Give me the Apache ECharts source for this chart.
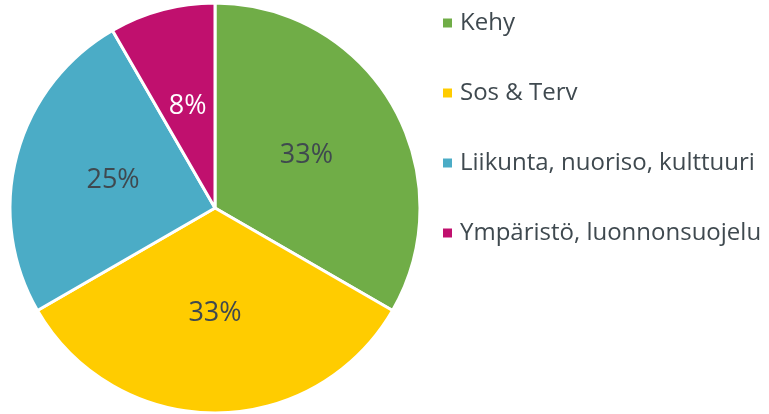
<!DOCTYPE html>
<html><head><meta charset="utf-8">
<script src="https://cdn.jsdelivr.net/npm/echarts@6/dist/echarts.min.js"></script>
<style>html,body{margin:0;padding:0;background:#fff}#c{width:769px;height:414px}</style>
</head><body><div id="c"></div>
<script>
const categories = ['Kehy', 'Sos & Terv', 'Liikunta, nuoriso, kulttuuri', 'Ympäristö, luonnonsuojelu'];
const values = [4, 4, 3, 1];
const colors = ['#70ad47', '#ffcc00', '#4bacc6', '#c0106e'];
const labelColors = ['#3f494f', '#3f494f', '#3f494f', '#ffffff'];

const chart = echarts.init(document.getElementById('c'));
chart.setOption({
  animation: false,
  color: colors,
  legend: {
    orient: 'vertical',
    left: 436,
    top: 3,
    itemWidth: 11,
    itemHeight: 11,
    itemGap: 40,
    icon: 'rect',
    textStyle: { fontFamily: 'Open Sans', fontSize: 24, color: '#3f494f', lineHeight: 30, padding: [0,0,0,2] },
    data: categories
  },
  series: [{
    type: 'pie',
    center: [215, 208],
    radius: [0, 205],
    startAngle: 90,
    clockwise: true,
    avoidLabelOverlap: false,
    itemStyle: { borderColor: '#ffffff', borderWidth: 3 },
    label: {
      position: 'inside',
      fontFamily: 'Open Sans',
      fontSize: 27,
      formatter: p => Math.round(p.percent) + '%'
    },
    labelLine: { show: false },
    data: categories.map((c, i) => ({ name: c, value: values[i], label: { color: labelColors[i] } }))
  }]
});
</script></body></html>
